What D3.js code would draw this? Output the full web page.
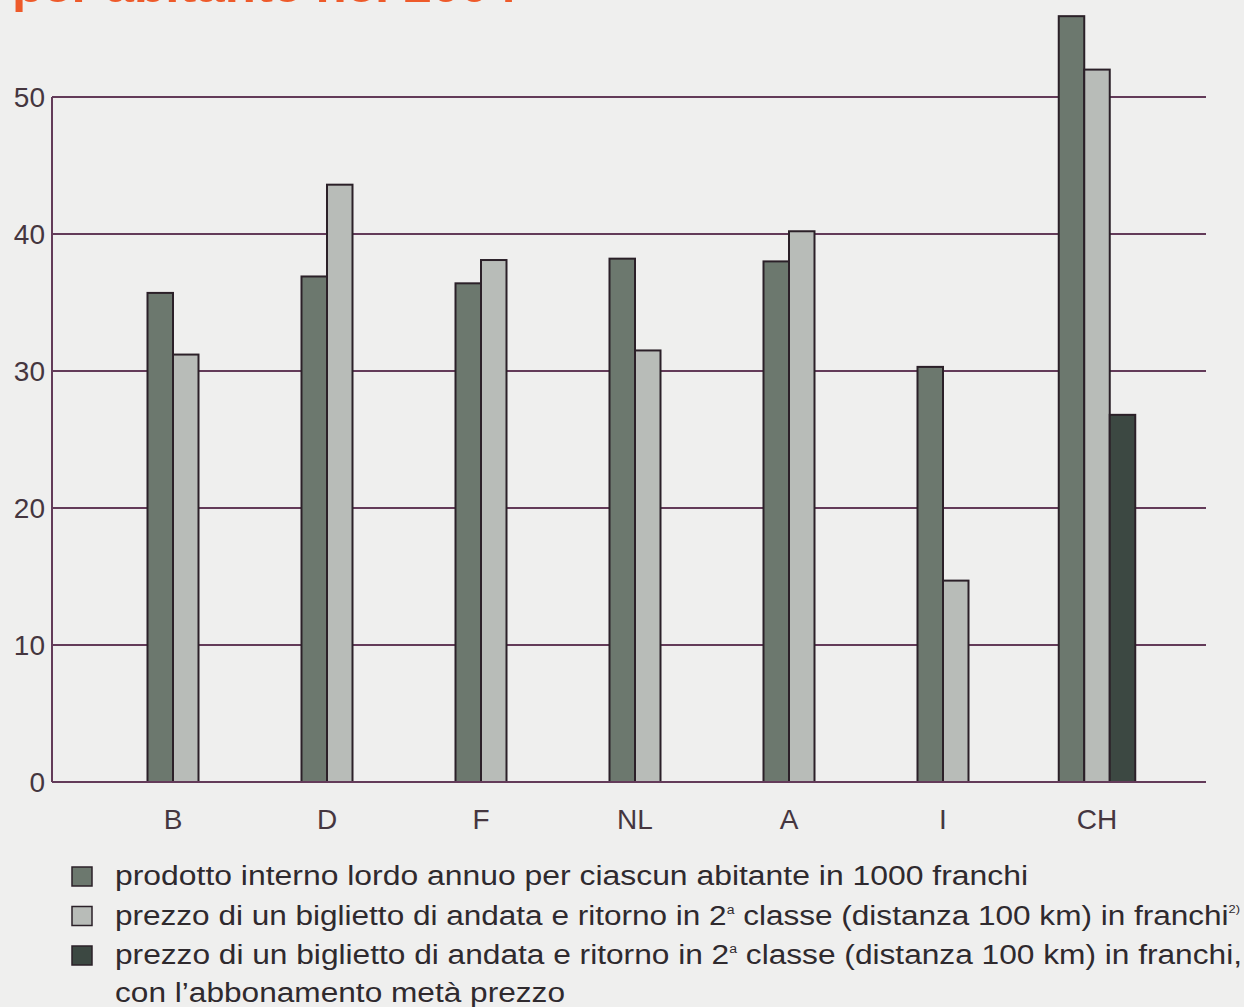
<!DOCTYPE html>
<html>
<head>
<meta charset="utf-8">
<script src="https://cdn.jsdelivr.net/npm/d3@7"></script>
<style>
  body { margin: 0; background: #efefee; }
  svg { display: block; font-family: "Liberation Sans", Arial, sans-serif; }
</style>
</head>
<body>
<div id="chart"></div>
<script>
// paesi
var countries = ["B", "D", "F", "NL", "A", "I", "CH"];
// PIL annuo per abitante (1000 franchi)
var gdp = [35.7, 36.9, 36.4, 38.2, 38.0, 30.3, 55.9];
// biglietto andata e ritorno 2a classe, 100 km (franchi)
var ticket = [31.2, 43.6, 38.1, 31.5, 40.2, 14.7, 52.0];
// con abbonamento metà prezzo (solo CH)
var ticketHalf = [null, null, null, null, null, null, 26.8];
var yTicks = [0, 10, 20, 30, 40, 50];

var legendLabels = [
  "prodotto interno lordo annuo per ciascun abitante in 1000 franchi",
  "prezzo di un biglietto di andata e ritorno in 2",
  "prezzo di un biglietto di andata e ritorno in 2"
];

var w = 1244;
var h = 1007;
var colors = ["#6c786e", "#b8bcb8", "#3c4842"];
var lineColor = "#633b59";

var svg = d3.select("#chart")
            .append("svg")
            .attr("width", w)
            .attr("height", h);

// titolo (tagliato in alto, come nell'originale)
svg.append("text")
   .attr("x", 12)
   .attr("y", 2)
   .attr("font-size", 46)
   .attr("font-weight", "bold")
   .attr("fill", "#ee5a2a")
   .attr("textLength", 505)
   .attr("lengthAdjust", "spacingAndGlyphs")
   .text("per abitante nel 2004");

var x = d3.scalePoint()
          .domain(countries)
          .range([173, 1097]);
var y = d3.scaleLinear()
          .domain([0, 50])
          .range([782, 97]);

var left = 52, right = 1206;
var barW = 25.5;

// griglia
svg.selectAll("line.grid")
   .data(yTicks)
   .enter()
   .append("line")
   .attr("class", "grid")
   .attr("x1", left)
   .attr("x2", right)
   .attr("y1", function(d) { return y(d); })
   .attr("y2", function(d) { return y(d); })
   .attr("stroke", lineColor)
   .attr("stroke-width", 2);

svg.append("line")
   .attr("x1", left).attr("x2", left)
   .attr("y1", y(50)).attr("y2", y(0))
   .attr("stroke", lineColor)
   .attr("stroke-width", 2);

svg.selectAll("text.ytick")
   .data(yTicks)
   .enter()
   .append("text")
   .attr("class", "ytick")
   .attr("x", 45)
   .attr("y", function(d) { return y(d) + 10; })
   .attr("text-anchor", "end")
   .attr("font-size", 28)
   .attr("fill", "#45363f")
   .text(function(d) { return d; });

// barre
var bars = [];
countries.forEach(function(c, i) {
  var vals = [gdp[i], ticket[i], ticketHalf[i]];
  var n = vals.filter(function(v) { return v != null; }).length;
  vals.forEach(function(v, j) {
    if (v == null) return;
    bars.push({ c: c, j: j, v: v, n: n });
  });
});

svg.selectAll("rect.bar")
   .data(bars)
   .enter()
   .append("rect")
   .attr("class", "bar")
   .attr("x", function(d) { return x(d.c) - d.n * barW / 2 + d.j * barW; })
   .attr("y", function(d) { return y(d.v); })
   .attr("width", barW)
   .attr("height", function(d) { return y(0) - y(d.v); })
   .attr("fill", function(d) { return colors[d.j]; })
   .attr("stroke", "#2b2028")
   .attr("stroke-width", 2);

// linea di base sopra le barre
svg.append("line")
   .attr("x1", left).attr("x2", right)
   .attr("y1", y(0)).attr("y2", y(0))
   .attr("stroke", lineColor)
   .attr("stroke-width", 2);

svg.selectAll("text.xtick")
   .data(countries)
   .enter()
   .append("text")
   .attr("class", "xtick")
   .attr("x", function(d) { return x(d); })
   .attr("y", 829)
   .attr("text-anchor", "middle")
   .attr("font-size", 28)
   .attr("fill", "#45363f")
   .text(function(d) { return d; });

// legenda
var legY = [885, 924.5, 964];
var legLen = [913, 1125, 1127];
svg.selectAll("rect.leg")
   .data(colors)
   .enter()
   .append("rect")
   .attr("class", "leg")
   .attr("x", 72)
   .attr("y", function(d, i) { return legY[i] - 18; })
   .attr("width", 20)
   .attr("height", 19)
   .attr("fill", function(d) { return d; })
   .attr("stroke", "#2b2028")
   .attr("stroke-width", 1.5);

var leg = svg.selectAll("text.leg")
   .data(legendLabels)
   .enter()
   .append("text")
   .attr("class", "leg")
   .attr("x", 115)
   .attr("y", function(d, i) { return legY[i]; })
   .attr("font-size", 27)
   .attr("fill", "#2f2a2e")
   .attr("textLength", function(d, i) { return legLen[i]; })
   .attr("lengthAdjust", "spacingAndGlyphs");

leg.append("tspan").text(function(d) { return d; });
leg.filter(function(d, i) { return i > 0; })
   .append("tspan")
   .attr("dy", -11)
   .attr("font-size", 12)
   .text("a");
leg.filter(function(d, i) { return i > 0; })
   .append("tspan")
   .attr("dy", 11)
   .text(function(d, i) {
     return i === 0 ? " classe (distanza 100 km) in franchi" : " classe (distanza 100 km) in franchi,";
   });
leg.filter(function(d, i) { return i === 1; })
   .append("tspan")
   .attr("dy", -12)
   .attr("font-size", 11)
   .text("2)");

svg.append("text")
   .attr("x", 115)
   .attr("y", 1002)
   .attr("font-size", 27)
   .attr("fill", "#2f2a2e")
   .attr("textLength", 450)
   .attr("lengthAdjust", "spacingAndGlyphs")
   .text("con l\u2019abbonamento metà prezzo");
</script>
</body>
</html>
